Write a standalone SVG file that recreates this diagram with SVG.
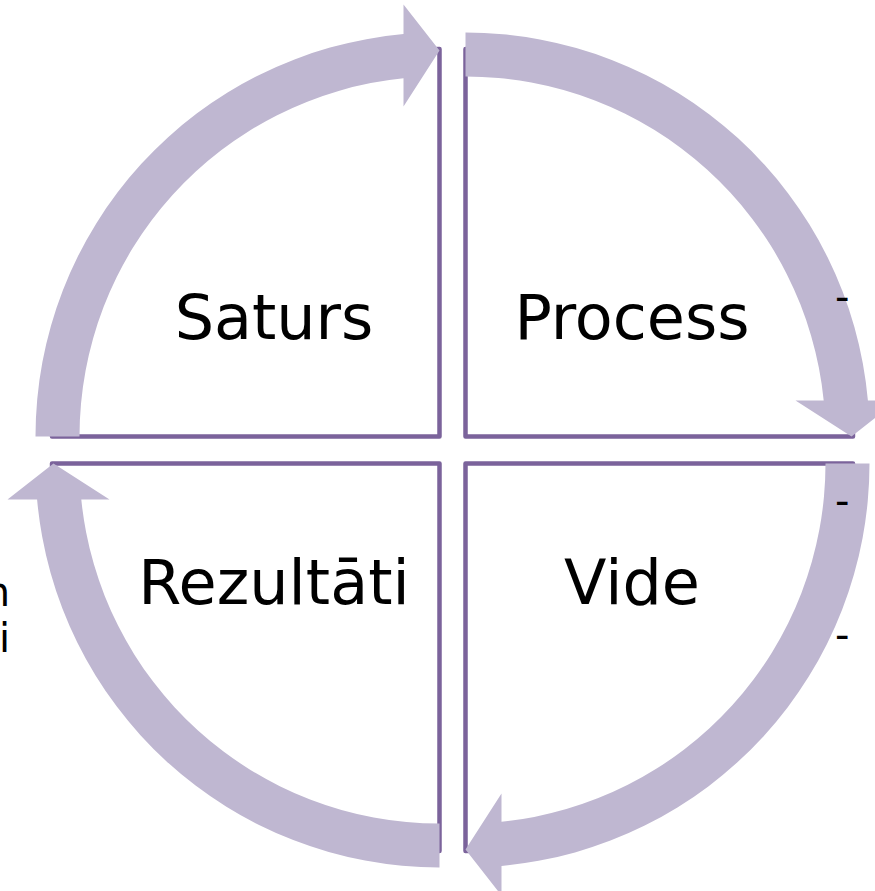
<svg xmlns="http://www.w3.org/2000/svg" xmlns:xlink="http://www.w3.org/1999/xlink" width="875" height="891" viewBox="0 0 875 891">
<style>
.quad{fill:#ffffff;stroke:#7B639B;stroke-width:4.5;stroke-linejoin:round}
.arrow{fill:#BFB7D1}
.label{font-family:"DejaVu Sans","Verdana",sans-serif;font-size:62px;fill:#000000;text-anchor:middle}
.side{font-family:"DejaVu Sans",sans-serif;font-size:40px;fill:#000000}
</style>
<defs>
<path id="arrowShape" class="arrow" d="M -404 0 A 404 404 0 0 1 -36 -402.4 L -36 -432 L 0 -386 L -36 -330 L -36 -358.2 A 360 360 0 0 0 -360 0 Z"/>
</defs>
<rect width="875" height="891" fill="#ffffff"/>
<g id="quadrant-saturs">
<path class="quad" d="M 439.5 436.5 L 52 436.5 A 387.5 387.5 0 0 1 439.5 49 Z"/>
</g>
<g id="quadrant-process">
<path class="quad" d="M 465.5 436.5 L 465.5 49 A 387.5 387.5 0 0 1 853 436.5 Z"/>
</g>
<g id="quadrant-rezultati">
<path class="quad" d="M 439.5 463.5 L 52 463.5 A 387.5 387.5 0 0 0 439.5 851 Z"/>
</g>
<g id="quadrant-vide">
<path class="quad" d="M 465.5 463.5 L 853 463.5 A 387.5 387.5 0 0 1 465.5 851 Z"/>
</g>
<g id="connectors">
<use xlink:href="#arrowShape" transform="translate(439.5,436.5)"/>
<use xlink:href="#arrowShape" transform="translate(465.5,436.5) rotate(90)"/>
<use xlink:href="#arrowShape" transform="translate(465.5,463.5) rotate(180)"/>
<use xlink:href="#arrowShape" transform="translate(439.5,463.5) rotate(270)"/>
</g>
<g id="labels">
<text class="label" x="274" y="339">Saturs</text>
<text class="label" x="632" y="339">Process</text>
<text class="label" x="274" y="604">Rezultāti</text>
<text class="label" x="632" y="604">Vide</text>
</g>
<g id="side-text">
<text class="side" x="10" y="606" text-anchor="end">n</text>
<text class="side" x="10" y="652" text-anchor="end">ti</text>
<text class="side" x="835" y="311">-</text>
<text class="side" x="835" y="515">-</text>
<text class="side" x="835" y="649">-</text>
</g>
</svg>
